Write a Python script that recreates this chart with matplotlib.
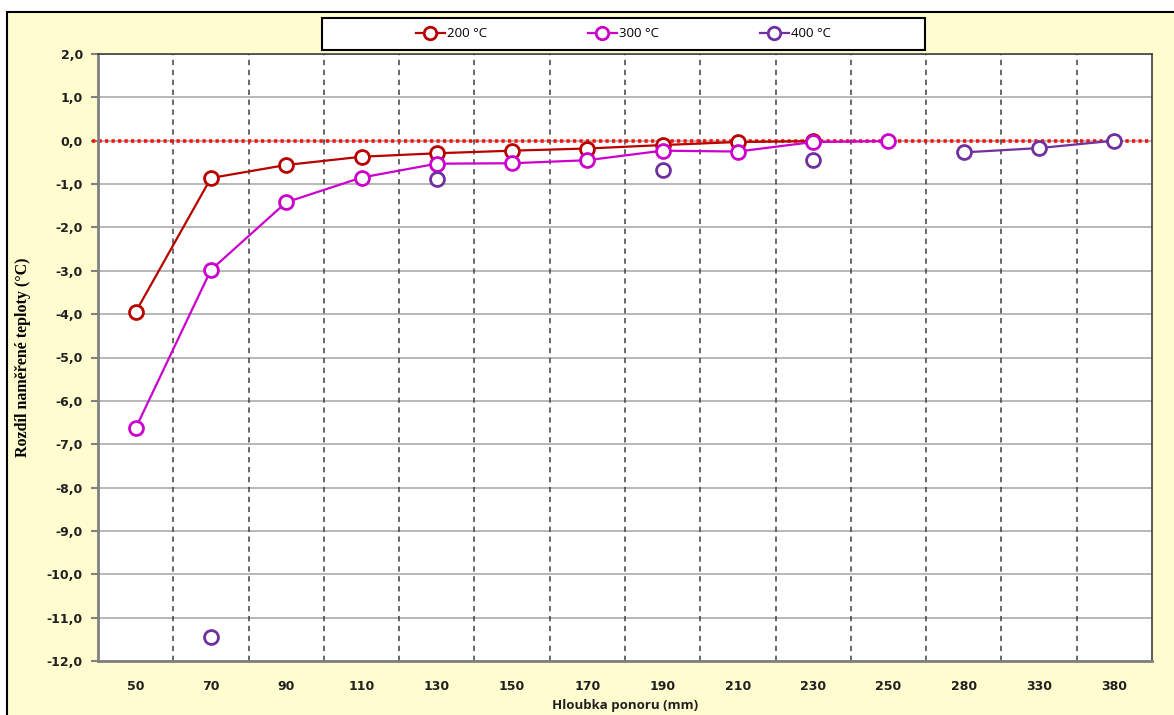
import numpy as np
import matplotlib.pyplot as plt
from matplotlib.patches import Rectangle

# categories on x axis (mm)
depths = ['50', '70', '90', '110', '130', '150', '170', '190', '210', '230', '250', '280', '330', '380']
nan = np.nan
t200 = [-3.95, -0.86, -0.56, -0.37, -0.29, -0.23, -0.18, -0.10, -0.03, -0.01, nan, nan, nan, nan]
t300 = [-6.63, -2.98, -1.42, -0.85, -0.53, -0.52, -0.45, -0.23, -0.25, -0.03, -0.01, nan, nan, nan]
t400 = [nan, -11.45, nan, nan, -0.88, nan, nan, -0.67, nan, -0.45, nan, -0.27, -0.17, 0.0]
labels = ['200 °C', '300 °C', '400 °C']
colors = ['#B80000', '#CC00CC', '#7030A0']
yticks = np.arange(-12, 2.5, 1.0)

fig = plt.figure(figsize=(11.74, 7.15), dpi=100)
fig.patch.set_facecolor('white')
# chart area frame
fig.add_artist(Rectangle((0.006, -0.05), 1.2, 1.033, transform=fig.transFigure,
                         facecolor='#FFFCCF', edgecolor='black', linewidth=1.5, zorder=-5))
# legend box
fig.add_artist(Rectangle((0.274, 0.930), 0.514, 0.045, transform=fig.transFigure,
                         facecolor='white', edgecolor='black', linewidth=1.5, zorder=4))

ax = fig.add_axes([0.0835, 0.0755, 0.8977, 0.849])
ax.set_facecolor('white')
x = np.arange(len(depths))

# grid
for v in yticks:
    ax.axhline(v, color='#ABABAB', linewidth=1.2, zorder=1)
for b in x[:-1] + 0.5:
    ax.axvline(b, color='#404040', linewidth=1.1, linestyle=(0, (3.5, 3)), zorder=1)

ax.axhline(0, xmin=-0.006, xmax=1, color='#FF1010', linewidth=2.6,
           linestyle=(0, (0.9, 0.9)), clip_on=False, zorder=2)

for ser, lab, c in zip([t200, t300, t400], labels, colors):
    ax.plot(x, ser, color=c, linewidth=1.6, marker='o', markersize=10,
            markerfacecolor='white', markeredgecolor=c, markeredgewidth=2, label=lab, zorder=3)

ax.set_xlim(-0.5, len(depths) - 0.5)
ax.set_ylim(-12, 2)
ax.set_xticks(x)
ax.set_xticklabels(depths)
ax.set_yticks(yticks)
ax.set_yticklabels([('%.1f' % v).replace('.', ',') for v in yticks])
ax.tick_params(axis='x', length=0, pad=14)
ax.tick_params(axis='y', length=5, width=1.5, color='#808080', pad=6)
for t in ax.get_xticklabels() + ax.get_yticklabels():
    t.set_fontfamily('DejaVu Sans')
    t.set_fontweight('bold')
    t.set_fontsize(9)
    t.set_color('#202020')

for s in ['left', 'bottom']:
    ax.spines[s].set_color('#808080')
    ax.spines[s].set_linewidth(2)
for s in ['top', 'right']:
    ax.spines[s].set_color('#404040')
    ax.spines[s].set_linewidth(1.2)

ax.set_ylabel('Rozdíl naměřené teploty (°C)', fontfamily='Liberation Serif',
              fontweight='bold', fontsize=11.5, labelpad=11)
ax.set_xlabel('Hloubka ponoru (mm)', fontfamily='Open Sans', fontweight='bold',
              fontsize=9.5, labelpad=4, color='#202020')

leg = fig.legend(loc='center', ncol=3, bbox_to_anchor=(0.531, 0.9525),
                 frameon=False, prop={'family': 'Open Sans', 'size': 9.5},
                 handlelength=2.2, handletextpad=0.2, columnspacing=7.6)
leg.set_zorder(5)
for h in leg.legend_handles:
    h.set_markersize(9)

fig.savefig('out.png', dpi=100)
